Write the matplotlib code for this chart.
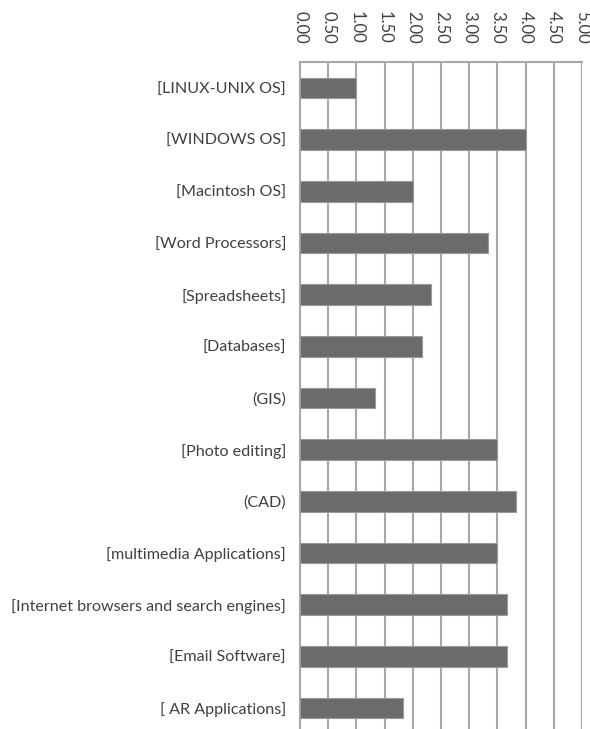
import matplotlib.pyplot as plt
import numpy as np

categories = ["[LINUX-UNIX OS]", "[WINDOWS OS]", "[Macintosh OS]", "[Word Processors]",
              "[Spreadsheets]", "[Databases]", "(GIS)", "[Photo editing]", "(CAD)",
              "[multimedia Applications]", "[Internet browsers and search engines]",
              "[Email Software]", "[ AR Applications]"]
values = [1.00, 4.00, 2.00, 3.33, 2.33, 2.17, 1.33, 3.50, 3.83, 3.50, 3.67, 3.67, 1.83]
ticks = [0, 0.5, 1, 1.5, 2, 2.5, 3, 3.5, 4, 4.5, 5]

plt.rcParams['font.family'] = ['Lato', 'DejaVu Sans']

fig = plt.figure(figsize=(5.9, 7.29), dpi=100)
W, H = 590, 729
ax = fig.add_axes([300 / W, -5 / H, 282 / W, (734 - 62) / H])

y = np.arange(len(categories))
ax.barh(y, values, height=0.4, color="#6b6b6b", edgecolor="#9a9a9a", linewidth=0.8, zorder=3)

ax.set_xlim(0, 5)
ax.set_ylim(len(categories) - 0.5, -0.5)
ax.set_xticks(ticks)
ax.set_xticklabels(["%.2f" % t for t in ticks], rotation=-90, fontsize=12, color="#404040")
ax.xaxis.tick_top()
ax.tick_params(axis="x", length=0, pad=13)
ax.set_yticks(y)
ax.set_yticklabels(categories, fontsize=11.6, color="#404040")
ax.tick_params(axis="y", length=0, pad=10)

ax.grid(axis="x", color="#a8a8a8", linewidth=1.5, zorder=0)
for s in ["top", "left"]:
    ax.spines[s].set_color("#a8a8a8")
    ax.spines[s].set_linewidth(1.5)
ax.spines["right"].set_visible(False)
ax.spines["bottom"].set_visible(False)

fig.savefig("out.png", dpi=100)
